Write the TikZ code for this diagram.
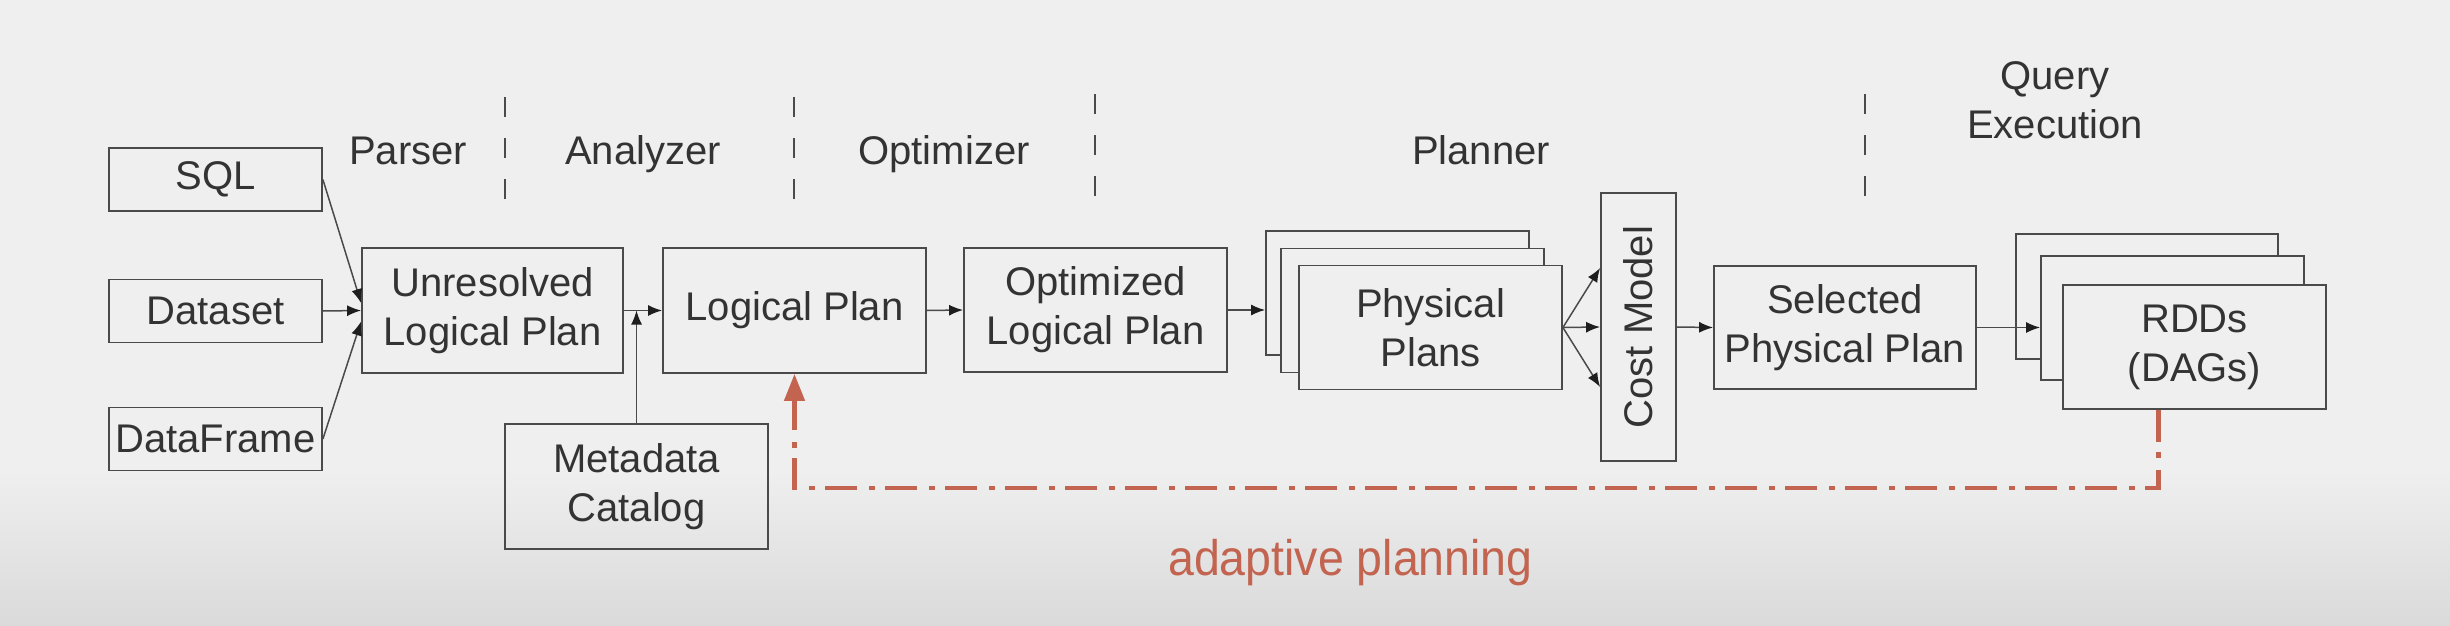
\documentclass[tikz,border=0pt]{standalone}
\usepackage{fontspec}
\setmainfont{Liberation Sans}
\usetikzlibrary{arrows.meta,calc}
\definecolor{bgc}{HTML}{EFEFEF}
\definecolor{bgd}{HTML}{DADADA}
\definecolor{linec}{HTML}{4A4A4A}
\definecolor{tipc}{HTML}{1E1E1E}
\definecolor{txtc}{HTML}{333333}
\definecolor{redc}{HTML}{C2644F}
\begin{document}
\begin{tikzpicture}[x=1pt,y=-1pt,
  box/.style={draw=linec,line width=1.8pt,text=txtc,inner sep=0pt,align=center,
    font=\fontsize{40}{49}\selectfont,minimum width=263pt,minimum height=124pt},
  smallbox/.style={box,minimum width=213pt,minimum height=63pt},
  stackbox/.style={box,fill=bgc},
  lbl/.style={text=txtc,font=\fontsize{40}{49}\selectfont,align=center,inner sep=0pt,anchor=base},
  arr/.style={draw=linec,line width=1.5pt,-{Latex[length=14pt,width=11pt,color=tipc]}},
  divider/.style={draw=linec,line width=2pt,dash pattern=on 20pt off 21pt},
  redline/.style={draw=redc,line width=4.5pt,dash pattern=on 32pt off 10pt on 6pt off 12pt}
]
\useasboundingbox (0,0) rectangle (2450,626);
\fill[bgc] (0,0) rectangle (2450,626);
\shade[top color=bgc,bottom color=bgd] (0,470) rectangle (2450,626);

% stage labels
\node[lbl] (parser) at (408,164) {Parser};
\node[lbl] (analyzer) at (643,164) {Analyzer};
\node[lbl] (optimizer) at (944,164) {Optimizer};
\node[lbl] (planner) at (1481,164) {Planner};
\node[lbl] (queryexec) at (2055,138) {Query\\Execution};

% dividers
\draw[divider] (505,97) -- (505,199);
\draw[divider] (794,97) -- (794,199);
\draw[divider] (1095,94) -- (1095,196);
\draw[divider] (1865,94) -- (1865,196);

% inputs
\node[smallbox] (sql) at (215.5,179.5) {SQL};
\node[smallbox] (dataset) at (215.5,311) {Dataset};
\node[smallbox] (dataframe) at (215.5,439) {DataFrame};

% main boxes
\node[box,minimum width=261pt,minimum height=125pt] (unresolved) at (492.5,310.5) {Unresolved\\Logical Plan};
\node[box,minimum height=125pt] (logical) at (794.5,310.5) {Logical Plan};
\node[box] (optimized) at (1095.5,310) {Optimized\\Logical Plan};
\node[box,minimum height=125pt] (metadata) at (636.5,486.5) {Metadata\\Catalog};

% physical plans stack
\node[stackbox] (physback) at (1397.5,293) {};
\node[stackbox] (physmid) at (1412.5,310.5) {};
\node[stackbox] (physfront) at (1430.5,327.5) {Physical\\Plans};

% cost model
\node[box,minimum width=75pt,minimum height=268pt] (cost) at (1638.5,327) {};
\node[text=txtc,font=\fontsize{40}{49}\selectfont,rotate=90,inner sep=0pt] (costtext) at (cost.center) {Cost Model};

\node[box,minimum width=262pt,minimum height=123pt] (selected) at (1845,327.5) {Selected\\Physical Plan};

% RDD stack
\node[stackbox,minimum width=262pt,minimum height=125pt] (rddback) at (2147,296.5) {};
\node[stackbox] (rddmid) at (2172.5,318) {};
\node[stackbox] (rddfront) at (2194.5,347) {RDDs\\(DAGs)};

% connectors
\draw[arr] (sql.east) -- ($(unresolved.west)+(0,-7.5)$);
\draw[arr] (dataset.east) -- (unresolved.west);
\draw[arr] (dataframe.east) -- ($(unresolved.west)+(0,11)$);
\draw[arr] (unresolved.east) -- (logical.west);
\draw[arr] (metadata.north) -- (metadata.north |- unresolved.east);
\draw[arr] (logical.east) -- (optimized.west);
\draw[arr] (optimized.east) -- (optimized.east -| physback.west);
\draw[arr] (physfront.east) -- ($(cost.west)+(0,-59)$);
\draw[arr] (physfront.east) -- (cost.west);
\draw[arr] (physfront.east) -- ($(cost.west)+(0,60)$);
\draw[arr] (cost.east) -- (selected.west);
\draw[arr] (selected.east) -- (selected.east -| rddmid.west);

% adaptive planning feedback
\coordinate (redstart) at ($(rddfront.south)+(-36,0)$);
\draw[redline,-{Triangle[length=27pt,width=20pt]}] (redstart) -- ++(0,78) -| (logical.south);
\node[text=redc,font=\fontsize{50}{60}\selectfont,xscale=0.93,inner sep=0pt,anchor=base] (adaptive) at (1350.5,575) {adaptive planning};
\end{tikzpicture}
\end{document}
